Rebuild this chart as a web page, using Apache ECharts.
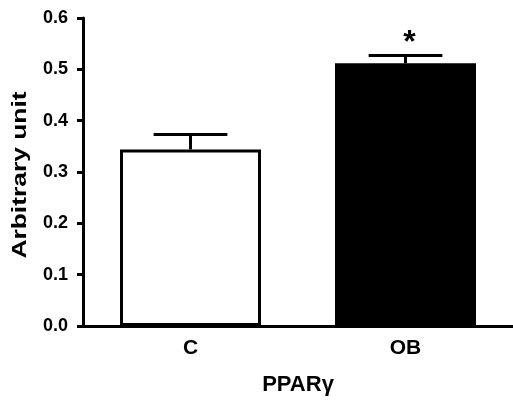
<!DOCTYPE html>
<html>
<head>
<meta charset="utf-8">
<script src="https://cdn.jsdelivr.net/npm/echarts@6/dist/echarts.min.js"></script>
<style>
html,body{margin:0;padding:0;background:#fff;}
#chart{width:513px;height:402px;}
</style>
</head>
<body>
<div id="chart"></div>
<script>
// ---- data ----
const categories = ['C', 'OB'];
const means = [0.344, 0.512];
const sems = [0.029, 0.015];
const significance = ['', '*'];
const yTickValues = [0.0, 0.1, 0.2, 0.3, 0.4, 0.5, 0.6];
const xAxisTitle = 'PPARγ';
const yAxisTitle = 'Arbitrary unit';

// ---- styles ----
const fills = ['#ffffff', '#000000'];
const FONT = '"Liberation Sans", Arial, sans-serif';

const chart = echarts.init(document.getElementById('chart'), null, {renderer: 'canvas'});

const errData = categories.map((c, i) => [i, means[i], sems[i]]);

chart.setOption({
  animation: false,
  backgroundColor: '#ffffff',
  grid: {left: 83, top: 18, width: 432, height: 308, containLabel: false},
  xAxis: {
    type: 'category',
    data: categories,
    boundaryGap: true,
    name: xAxisTitle,
    nameLocation: 'middle',
    nameGap: 48,
    nameTextStyle: {fontFamily: FONT, fontWeight: 'bold', fontSize: 22, color: '#000'},
    axisLine: {lineStyle: {color: '#000', width: 3}},
    axisTick: {alignWithLabel: true, length: 6, lineStyle: {color: '#000', width: 3}},
    axisLabel: {fontFamily: FONT, fontWeight: 'bold', fontSize: 21, color: '#000', margin: 12},
    splitLine: {show: false}
  },
  yAxis: {
    type: 'value',
    min: yTickValues[0],
    max: yTickValues[yTickValues.length - 1],
    interval: 0.1,
    axisLine: {show: true, lineStyle: {color: '#000', width: 3}},
    axisTick: {show: true, length: 6, lineStyle: {color: '#000', width: 3}},
    axisLabel: {fontFamily: FONT, fontWeight: 'bold', fontSize: 18, color: '#000', margin: 15,
      formatter: v => v.toFixed(1)},
    splitLine: {show: false}
  },
  graphic: [{
    type: 'text',
    x: 20, y: 175,
    rotation: Math.PI / 2,
    scaleX: 1.32,
    style: {
      text: yAxisTitle,
      font: 'bold 20px ' + FONT,
      fill: '#000',
      align: 'center',
      verticalAlign: 'middle'
    }
  }],
  series: [
    {
      type: 'bar',
      barWidth: 141,
      data: means.map((v, i) => ({
        value: v,
        itemStyle: {color: fills[i], borderColor: '#000', borderWidth: 3}
      })),
      z: 2
    },
    {
      type: 'custom',
      z: 3,
      data: errData,
      renderItem: function (params, api) {
        const idx = api.value(0);
        const m = api.value(1);
        const e = api.value(2);
        const sig = significance[params.dataIndex];
        const p0 = api.coord([idx, m]);
        const p1 = api.coord([idx, m + e]);
        const band = api.size([1, 0])[0];
        const half = band * 0.343 / 2;
        const children = [
          {type: 'line', shape: {x1: p0[0], y1: p0[1], x2: p1[0], y2: p1[1]},
           style: {stroke: '#000', lineWidth: 3}},
          {type: 'line', shape: {x1: p1[0] - half, y1: p1[1], x2: p1[0] + half, y2: p1[1]},
           style: {stroke: '#000', lineWidth: 3}}
        ];
        if (sig) {
          children.push({type: 'text', x: p1[0] + 4, y: p1[1] + 4,
            style: {text: sig, font: 'bold 32px ' + FONT, fill: '#000',
              align: 'center', verticalAlign: 'bottom'}});
        }
        return {type: 'group', children: children};
      }
    }
  ]
});
</script>
</body>
</html>
